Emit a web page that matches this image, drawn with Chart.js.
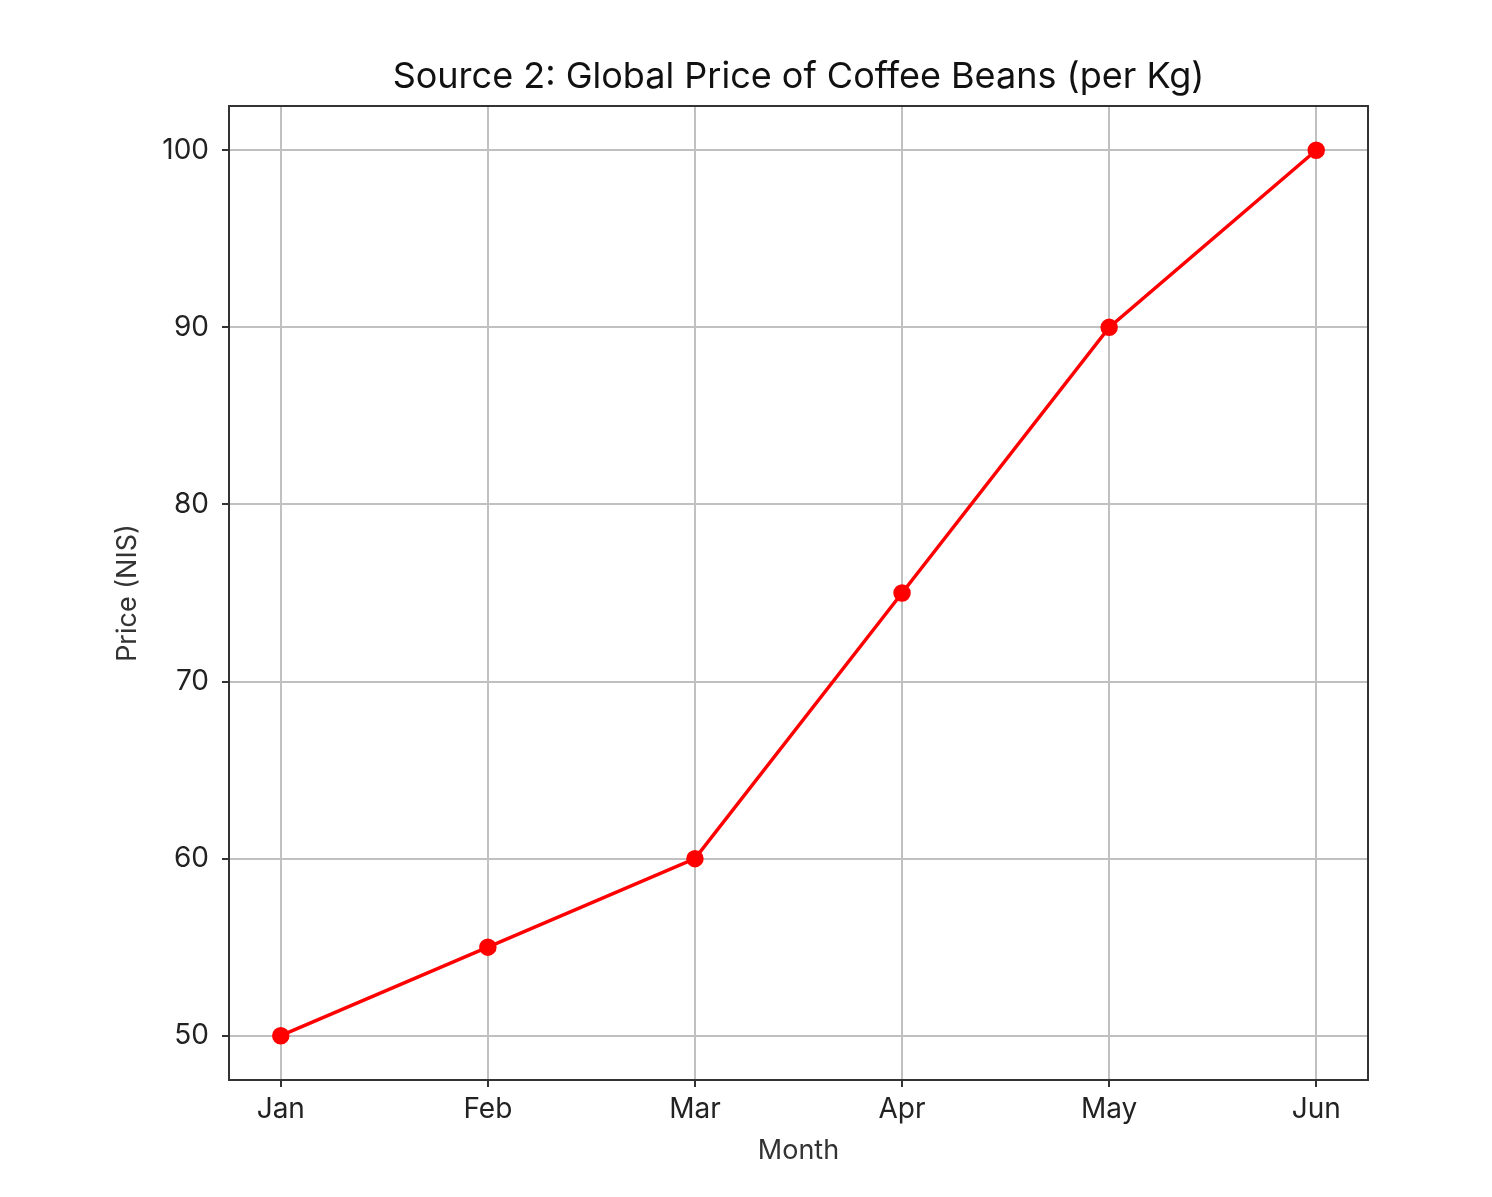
<!DOCTYPE html>
<html>
<head>
<meta charset="utf-8">
<script src="https://cdn.jsdelivr.net/npm/chart.js@4"></script>
<style>
  html, body { margin: 0; padding: 0; background: #fff; }
  #wrap { width: 1492px; height: 1197px; }
</style>
</head>
<body>
<div id="wrap"><canvas id="priceChart" width="1492" height="1197"></canvas></div>
<script>
const months = ['Jan', 'Feb', 'Mar', 'Apr', 'May', 'Jun'];
const prices = [50, 55, 60, 75, 90, 100];
const yTicks = [50, 60, 70, 80, 90, 100];
const titleText = 'Source 2: Global Price of Coffee Beans (per Kg)';

const font = "Inter, 'Open Sans', sans-serif";

// frame on all four sides + title centred over the plot area
const frame = {
    id: 'frame',
    afterDraw(chart) {
        const a = chart.chartArea;
        const c = chart.ctx;
        c.save();
        c.strokeStyle = '#333';
        c.lineWidth = 2;
        c.strokeRect(a.left, a.top, a.right - a.left, a.bottom - a.top);
        c.fillStyle = '#111';
        c.font = '36px ' + font;
        c.textAlign = 'center';
        c.textBaseline = 'middle';
        c.fillText(titleText, (a.left + a.right) / 2, 77);
        c.restore();
    }
};

const ctx = document.getElementById('priceChart').getContext('2d');
const priceChart = new Chart(ctx, {
    type: 'line',
    data: {
        datasets: [{
            label: 'Price',
            data: prices.map((p, i) => ({ x: i, y: p })),
            borderColor: '#ff0000',
            backgroundColor: '#ff0000',
            borderWidth: 3.5,
            pointRadius: 7,
            pointHoverRadius: 7,
            tension: 0
        }]
    },
    options: {
        responsive: false,
        animation: false,
        layout: {
            padding: { left: 108, right: 124, top: 106, bottom: 26 }
        },
        plugins: {
            legend: { display: false },
            tooltip: { enabled: false },
            title: { display: false }
        },
        scales: {
            x: {
                type: 'linear',
                min: -0.25,
                max: 5.25,
                afterFit: (s) => { s.height = 91; },
                ticks: {
                    stepSize: 1,
                    includeBounds: false,
                    color: '#222',
                    padding: 6,
                    font: { family: font, size: 28 },
                    callback: (v) => months[v]
                },
                grid: { color: '#c0c0c0', lineWidth: 2, tickColor: '#333', tickLength: 7 },
                border: { color: '#333', width: 2 },
                title: {
                    display: true,
                    text: 'Month',
                    color: '#333',
                    font: { family: font, size: 27 },
                    padding: { top: 5 }
                }
            },
            y: {
                min: 47.5,
                max: 102.5,
                afterFit: (s) => { s.width = 121; },
                afterBuildTicks: (s) => { s.ticks = yTicks.map(v => ({ value: v })); },
                ticks: {
                    color: '#222',
                    padding: 13,
                    font: { family: font, size: 28 }
                },
                grid: { color: '#c0c0c0', lineWidth: 2, tickColor: '#333', tickLength: 7 },
                border: { color: '#333', width: 2 },
                title: {
                    display: true,
                    text: 'Price (NIS)',
                    color: '#333',
                    font: { family: font, size: 27 },
                    padding: { bottom: 0 }
                }
            }
        }
    },
    plugins: [frame]
});
</script>
</body>
</html>
